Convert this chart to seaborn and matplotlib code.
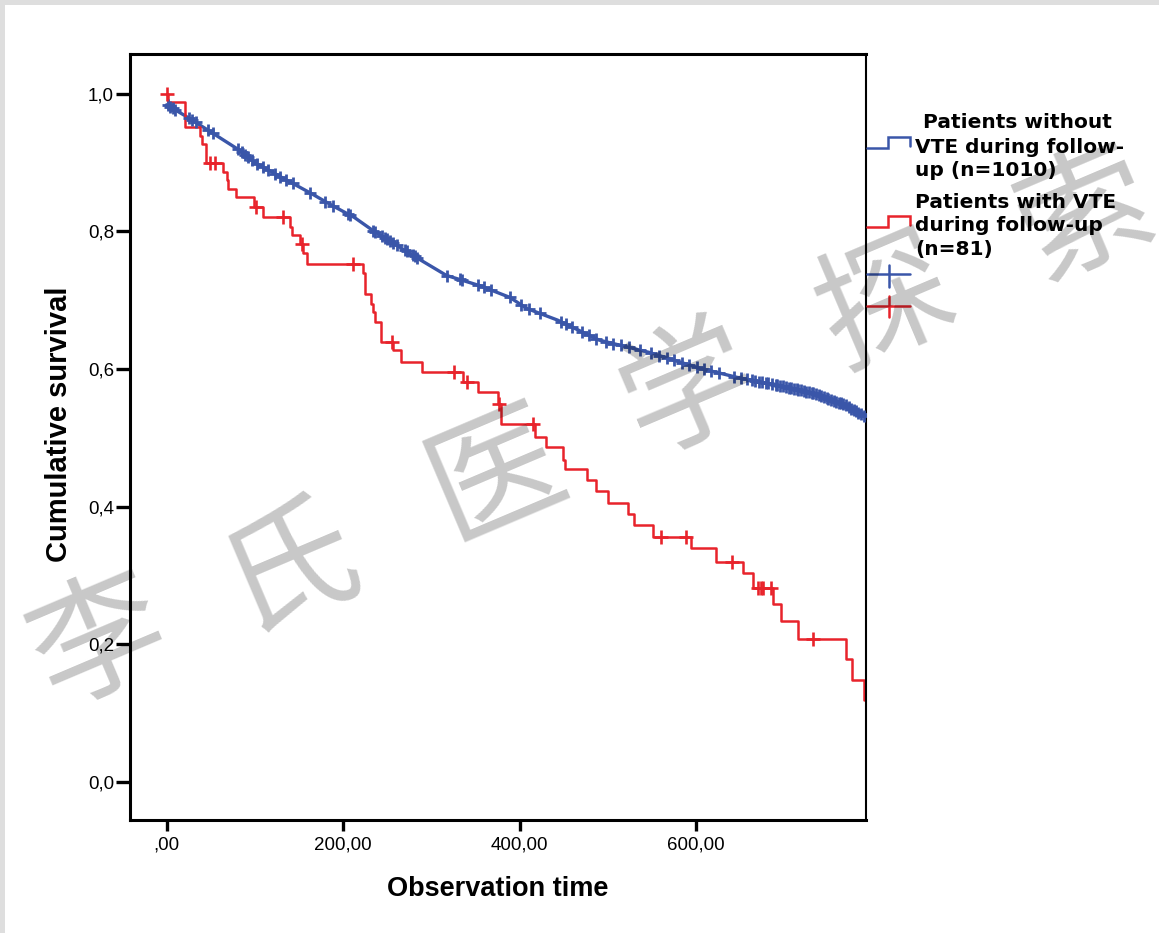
import numpy as np
import matplotlib
matplotlib.use("Agg")
import matplotlib.pyplot as plt
from matplotlib.lines import Line2D
from matplotlib.patches import Rectangle
import seaborn as sns

# Kaplan-Meier estimate, patients with VTE during follow-up (n=81)
vte_time = [0, 1, 21, 38, 40, 45, 64, 68, 70, 79, 99, 109, 140, 142, 151, 155, 159,
            223, 225, 232, 234, 236, 243, 257, 266, 289, 336, 353, 375, 379, 417, 430,
            449, 451, 476, 487, 500, 523, 530, 551, 594, 623, 653, 664, 687, 696, 715,
            770, 777, 790]
vte_surv = [1.000, 0.988, 0.951, 0.939, 0.927, 0.900, 0.886, 0.874, 0.862, 0.850, 0.835,
            0.821, 0.806, 0.794, 0.782, 0.768, 0.753, 0.739, 0.709, 0.695, 0.683, 0.668,
            0.639, 0.627, 0.610, 0.596, 0.581, 0.567, 0.549, 0.520, 0.501, 0.487, 0.468,
            0.455, 0.438, 0.422, 0.405, 0.389, 0.373, 0.356, 0.340, 0.320, 0.303, 0.282,
            0.258, 0.234, 0.207, 0.178, 0.148, 0.119]
vte_censored = [0, 49, 55, 101, 132, 153, 211, 255, 326, 340, 377, 415, 560, 589, 641,
                670, 673, 676, 685, 733]

# Kaplan-Meier estimate, patients without VTE during follow-up (n=1010)
novte_time = [0, 21, 47, 80, 100, 131, 164, 187, 213, 234, 283, 317, 355, 389, 408, 443,
              490, 547, 604, 649, 694, 732, 770, 792]
novte_surv = [0.984, 0.968, 0.947, 0.920, 0.900, 0.878, 0.855, 0.838, 0.820, 0.801, 0.762,
              0.736, 0.721, 0.704, 0.688, 0.671, 0.642, 0.624, 0.601, 0.587, 0.576, 0.565,
              0.547, 0.530]
novte_censored = [1, 4, 7, 10, 25, 29, 33, 47, 52, 81, 85, 89, 92, 97, 102, 109, 115, 123,
                  129, 135, 143, 163, 180, 188, 205, 208, 234, 236, 244, 247, 250, 253, 257,
                  261, 270, 272, 279, 281, 284, 318, 332, 335, 353, 360, 368, 389, 402, 411,
                  423, 447, 453, 459, 471, 479, 487, 498, 506, 515, 524, 536, 549, 558, 567,
                  575, 584, 592, 601, 609, 617, 626, 643, 651, 658, 663, 667, 671, 675, 679,
                  682, 686, 690, 692, 695, 699, 702, 705, 708, 711, 714, 716, 719, 722, 725,
                  728, 731, 733, 736, 739, 742, 745, 748, 750, 753, 756, 759, 762, 764, 767,
                  770, 773, 776, 779, 781, 784, 787, 790]

y_ticks = [0.0, 0.2, 0.4, 0.6, 0.8, 1.0]
y_tick_labels = ["0,0", "0,2", "0,4", "0,6", "0,8", "1,0"]
x_ticks = [0, 200, 400, 600]
x_tick_labels = [",00", "200,00", "400,00", "600,00"]

x_label = "Observation time"
y_label = "Cumulative survival"
legend_novte = ["Patients without", "VTE during follow-", "up (n=1010)"]
legend_vte = ["Patients with VTE", "during follow-up", "(n=81)"]
watermark_chars = ["李", "氏", "医", "学", "探", "索"]

BLUE = "#3a56a9"
RED = "#e8232b"

sns.set_style("white")
plt.rcParams["font.family"] = ["Liberation Sans", "DejaVu Sans"]

W, H = 1159, 933
fig = plt.figure(figsize=(W / 100, H / 100), dpi=100)
fig.patch.set_facecolor("white")


def fx(x):
    return x / W


def fy(y):
    return 1 - y / H


# light grey frame along the top and left edges
fig.add_artist(Rectangle((0, fy(5)), 1, 5 / H, transform=fig.transFigure,
                         facecolor="#dedede", edgecolor="none", zorder=0))
fig.add_artist(Rectangle((0, 0), 5 / W, 1, transform=fig.transFigure,
                         facecolor="#dedede", edgecolor="none", zorder=0))

ax = fig.add_axes([fx(130), fy(820), (866 - 130) / W, (820 - 54) / H])
ax.set_facecolor("white")


def step_at(times, surv, t):
    idx = np.searchsorted(np.asarray(times), np.asarray(t), side="right") - 1
    return np.asarray(surv)[idx]


# survival curves
sns.lineplot(x=novte_time, y=novte_surv, estimator=None, sort=False,
             color=BLUE, linewidth=2.4, ax=ax)
sns.lineplot(x=vte_time, y=vte_surv, estimator=None, sort=False,
             drawstyle="steps-post", color=RED, linewidth=1.8, ax=ax)

# censoring marks
sns.scatterplot(x=novte_censored, y=np.interp(novte_censored, novte_time, novte_surv),
                marker="+", s=80, linewidth=2.0, color=BLUE, ax=ax, zorder=3)
sns.scatterplot(x=vte_censored, y=step_at(vte_time, vte_surv, vte_censored),
                marker="+", s=110, linewidth=1.9, color=RED, ax=ax, zorder=4)

ax.set_xlim(-41.5, 792.5)
ax.set_ylim(-0.0556, 1.0578)
ax.set_xticks(x_ticks)
ax.set_xticklabels(x_tick_labels)
ax.set_yticks(y_ticks)
ax.set_yticklabels(y_tick_labels)
ax.set_xlabel("")
ax.set_ylabel("")
ax.tick_params(axis="y", left=True, length=10, width=2.4, pad=1.5,
               labelsize=13.5, colors="black", direction="out")
ax.tick_params(axis="x", bottom=True, length=8, width=2.4, pad=4,
               labelsize=13.5, colors="black", direction="out")
for side, lw in (("top", 2.2), ("bottom", 2.2), ("left", 2.2), ("right", 1.5)):
    ax.spines[side].set_visible(True)
    ax.spines[side].set_color("black")
    ax.spines[side].set_linewidth(lw)

# axis titles
fig.text(fx(498), fy(896), x_label, ha="center", va="baseline",
         fontsize=19.5, fontweight="bold", color="black")
fig.text(fx(59), fy(424), y_label, ha="center", va="center", rotation=90,
         fontsize=21, fontweight="bold", color="black")

# legend glyphs
def glyph(xs, ys, color):
    fig.add_artist(Line2D([fx(v) for v in xs], [fy(v) for v in ys],
                          transform=fig.transFigure, color=color, linewidth=1.8,
                          solid_joinstyle="miter"))


glyph([867, 888, 888, 910, 910], [148, 148, 137, 137, 146], BLUE)
glyph([867, 888, 888, 910, 910], [227, 227, 216, 216, 225], RED)
glyph([867, 910], [274, 274], BLUE)
glyph([889, 889], [265, 287], BLUE)
glyph([867, 910], [306, 306], RED)
glyph([889, 889], [296, 317], RED)

legend_font = dict(fontsize=14.5, fontweight="bold", color="black",
                   family=["DejaVu Sans"], ha="left", va="baseline")
for (x, y), line in zip([(923, 128), (915, 153), (915, 176)], legend_novte):
    fig.text(fx(x), fy(y), line, **legend_font)
for (x, y), line in zip([(915, 208), (915, 231), (915, 255)], legend_vte):
    fig.text(fx(x), fy(y), line, **legend_font)

# diagonal watermark
wm_pos = [(100, 645), (290, 567), (497, 477), (690, 392), (887, 305), (1087, 217)]
for (x, y), ch in zip(wm_pos, watermark_chars):
    fig.text(fx(x), fy(y), ch, ha="center", va="center", rotation=23,
             rotation_mode="anchor", fontsize=96, color="black", alpha=0.22,
             family=["Noto Sans CJK SC"], zorder=10)

fig.savefig("out.png", dpi=100, facecolor="white")
